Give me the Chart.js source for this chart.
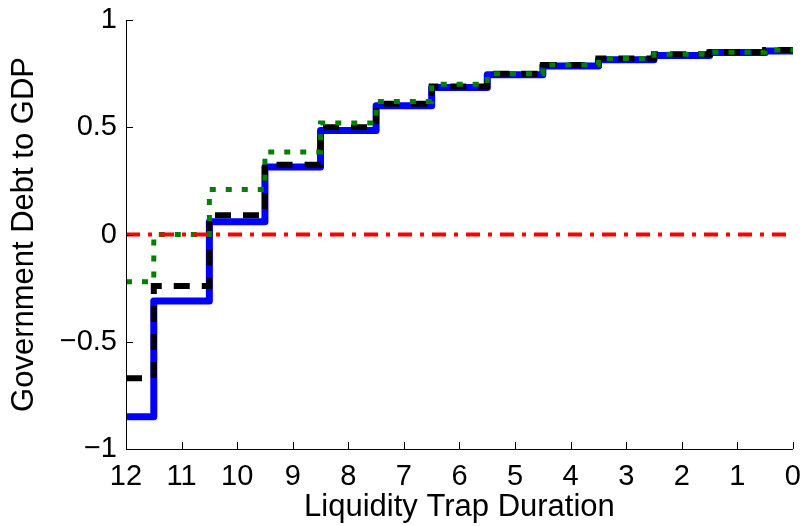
<!DOCTYPE html>
<html>
<head>
<meta charset="utf-8">
<script src="https://cdn.jsdelivr.net/npm/chart.js@4"></script>
<style>
  html, body { margin: 0; padding: 0; background: #fff; }
  #wrap { width: 812px; height: 526px; }
</style>
</head>
<body>
<div id="wrap"><canvas id="graphe"></canvas></div>
<script>
// durée de la trappe (axe inversé)
var duree = [12, 11, 10, 9, 8, 7, 6, 5, 4, 3, 2, 1, 0];

// séries
var serieBleue = [-0.85, -0.31, 0.06, 0.315, 0.485, 0.60, 0.685, 0.745, 0.785, 0.815, 0.835, 0.848, 0.855];
var serieNoire = [-0.67, -0.24, 0.09, 0.325, 0.50, 0.61, 0.69, 0.75, 0.79, 0.82, 0.84, 0.85, 0.86];
var serieVerte = [-0.22, 0.0, 0.21, 0.385, 0.52, 0.62, 0.70, 0.75, 0.79, 0.82, 0.84, 0.85, 0.86];
var serieRouge = [0, 0, 0, 0, 0, 0, 0, 0, 0, 0, 0, 0, 0];

var ticksY = [-1, -0.5, 0, 0.5, 1];

function points(y) {
    var p = [];
    for (let i = 0; i < duree.length; i++) {
        p.push({ x: duree[i], y: y[i] });
    }
    return p;
}

// ticks vers l'intérieur, comme sous matlab
var ticksInterieurs = {
    id: 'ticksInterieurs',
    afterDraw: function (chart) {
        var ctx = chart.ctx;
        var sx = chart.scales.x, sy = chart.scales.y;
        var a = chart.chartArea;
        ctx.save();
        ctx.strokeStyle = '#000';
        ctx.lineWidth = 1;
        ctx.beginPath();
        ctx.moveTo(a.left + 0.5, a.top);
        ctx.lineTo(a.left + 0.5, a.bottom + 0.5);
        ctx.lineTo(a.right, a.bottom + 0.5);
        duree.forEach(function (v) {
            var px = Math.round(sx.getPixelForValue(v)) + 0.5;
            ctx.moveTo(px, a.bottom);
            ctx.lineTo(px, a.bottom - 7);
        });
        ticksY.forEach(function (v) {
            var py = Math.round(sy.getPixelForValue(v)) + 0.5;
            ctx.moveTo(a.left, py);
            ctx.lineTo(a.left + 7, py);
        });
        ctx.stroke();
        ctx.restore();
    }
};

var famille = 'Liberation Sans, Arial, sans-serif';
var police = { family: famille, size: 29 };
var policeTitre = { family: famille, size: 31 };

var chart = new Chart(document.getElementById('graphe'), {
    type: 'line',
    data: {
        datasets: [
            {
                data: points(serieBleue),
                borderColor: '#0000ff',
                borderWidth: 7,
                stepped: 'middle',
                borderJoinStyle: 'round',
                borderCapStyle: 'round',
                pointRadius: 0,
                order: 4
            },
            {
                data: points(serieNoire),
                borderColor: '#000000',
                borderWidth: 6,
                borderDash: [16, 12],
                stepped: 'middle',
                pointRadius: 0,
                order: 3
            },
            {
                data: points(serieVerte),
                borderColor: '#008000',
                borderWidth: 5,
                borderDash: [6, 10],
                stepped: 'middle',
                pointRadius: 0,
                order: 2
            },
            {
                data: points(serieRouge),
                borderColor: '#ff0000',
                borderWidth: 4,
                borderDash: [14, 8, 4, 8],
                pointRadius: 0,
                order: 1
            }
        ]
    },
    options: {
        responsive: true,
        maintainAspectRatio: false,
        animation: false,
        layout: { padding: { top: 20, right: 12, left: 0, bottom: 0 } },
        plugins: { legend: { display: false }, tooltip: { enabled: false } },
        scales: {
            x: {
                type: 'linear',
                reverse: true,
                min: 0,
                max: 12,
                grid: { display: false, drawTicks: false },
                border: { display: false },
                ticks: { stepSize: 1, color: '#000', font: police, padding: 11, maxRotation: 0, autoSkip: false },
                title: { display: true, text: 'Liquidity Trap Duration', color: '#000', font: policeTitre, padding: { top: 0, bottom: 0 } },
                afterFit: function (s) { s.height = 77; }
            },
            y: {
                min: -1,
                max: 1,
                grid: { display: false, drawTicks: false },
                border: { display: false },
                afterBuildTicks: function (s) { s.ticks = ticksY.map(function (v) { return { value: v }; }); },
                ticks: {
                    color: '#000', font: police, padding: 9,
                    callback: function (v) { return String(v).replace('-', '\u2212'); }
                },
                title: { display: true, text: 'Government Debt to GDP', color: '#000', font: policeTitre, padding: { top: 6, bottom: 0 } },
                afterFit: function (s) { s.width = 126; s.paddingTop = 0; s.paddingBottom = 0; }
            }
        }
    },
    plugins: [ticksInterieurs]
});
</script>
</body>
</html>
